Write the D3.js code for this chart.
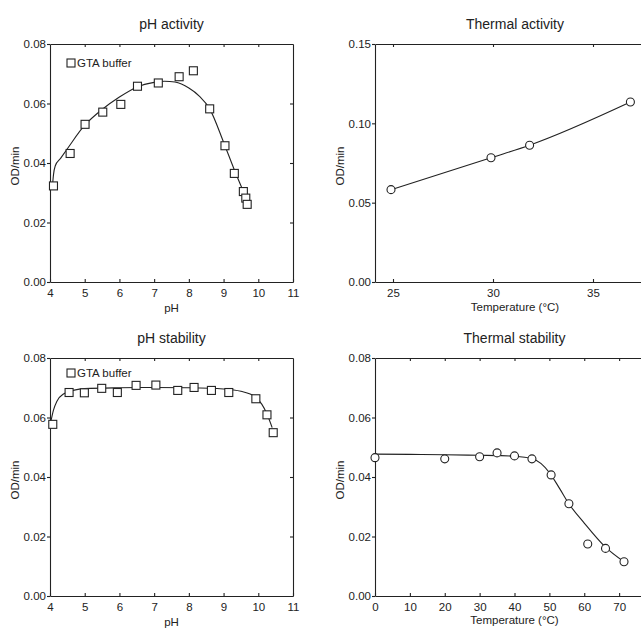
<!DOCTYPE html>
<html>
<head>
<meta charset="utf-8">
<script src="https://cdn.jsdelivr.net/npm/d3@7"></script>
<style>
  body { margin: 0; background: #fff; }
  text { font-family: "Liberation Sans", Arial, sans-serif; fill: #222; }
</style>
</head>
<body>
<svg id="chart" width="641" height="630"></svg>
<script>

// pH activity (GTA buffer)
const phActPH = [4.1, 4.58, 5.01, 5.52, 6.04, 6.52, 7.12, 7.72, 8.13, 8.6, 9.04, 9.31, 9.57, 9.64, 9.68]
const phActOD = [0.0323, 0.0432, 0.053, 0.0571, 0.0597, 0.0658, 0.0669, 0.069, 0.071, 0.0582, 0.0458, 0.0365, 0.0304, 0.0282, 0.0261]
const phActFitPH = [4.08, 4.1, 4.15, 4.3, 4.5, 5.0, 5.5, 6.0, 6.5, 7.0, 7.3, 7.6, 8.0, 8.3, 8.6, 9.0, 9.3, 9.55]
const phActFitOD = [0.0335, 0.036, 0.039, 0.0415, 0.0448, 0.0527, 0.058, 0.0622, 0.0655, 0.0671, 0.0675, 0.0672, 0.0652, 0.0625, 0.0582, 0.047, 0.038, 0.031]

// Thermal activity
const thActT = [24.9, 29.9, 31.83, 36.87]
const thActOD = [0.0582, 0.0783, 0.0862, 0.1134]

// pH stability (GTA buffer)
const phStabPH = [4.08, 4.55, 4.99, 5.49, 5.94, 6.48, 7.05, 7.68, 8.15, 8.65, 9.15, 9.93, 10.25, 10.43]
const phStabOD = [0.0577, 0.0684, 0.0683, 0.0698, 0.0684, 0.0708, 0.0709, 0.0691, 0.0701, 0.0691, 0.0684, 0.0663, 0.0609, 0.0549]
const phStabFitPH = [4.02, 4.1, 4.2, 4.4, 4.7, 5.0, 6.0, 7.0, 8.0, 9.0, 9.5, 9.9, 10.1, 10.25, 10.4]
const phStabFitOD = [0.0584, 0.0625, 0.0655, 0.068, 0.0692, 0.0697, 0.07, 0.0701, 0.07, 0.0696, 0.0688, 0.067, 0.0645, 0.0612, 0.0566]

// Thermal stability
const thStabT = [0, 20, 30, 35, 40, 45, 50.5, 55.6, 61, 66.1, 71.4]
const thStabOD = [0.0465, 0.0461, 0.0468, 0.0481, 0.0471, 0.0461, 0.0407, 0.031, 0.0175, 0.016, 0.0115]
const thStabFitT = [0, 10, 20, 30, 35, 40, 45, 50, 53, 55.6, 60, 66, 71.4]
const thStabFitOD = [0.0477, 0.0476, 0.0475, 0.0473, 0.0472, 0.047, 0.0462, 0.0415, 0.036, 0.031, 0.0245, 0.0165, 0.0115]

// tick labels
const phTicks = [4, 5, 6, 7, 8, 9, 10, 11]
const odTicks = [0, 0.02, 0.04, 0.06, 0.08]
const thActTicks = [25, 30, 35]
const odActTicks = [0, 0.05, 0.10, 0.15]
const thStabTicks = [0, 10, 20, 30, 40, 50, 60, 70]

const svg = d3.select("#chart")
const ink = "#222"

function styleAxis(sel) {
    sel.attr("color", ink)
        .attr("font-size", 11.5)
        .attr("font-family", "Liberation Sans, Arial, sans-serif")
    sel.selectAll("path, line").attr("stroke-width", 1.1)
}

function drawPanel(p) {
    const x = d3.scaleLinear().domain(p.xDomain).range([p.left, p.right])
    const y = d3.scaleLinear().domain(p.yDomain).range([p.bottom, p.top])
    const g = svg.append("g")
    const inner = (arr) => arr.filter(v => v > p.xDomain[0] && v < p.xDomain[1])
    const innerY = p.yTicks.slice(1, -1)

    // frame: top and right with inward ticks, no labels
    g.append("g").attr("transform", `translate(0,${p.top})`)
        .call(d3.axisTop(x).tickValues(inner(p.xTicks)).tickSizeInner(-3).tickSizeOuter(0).tickFormat(""))
        .call(styleAxis)
    g.append("g").attr("transform", `translate(${p.right},0)`)
        .call(d3.axisRight(y).tickValues(innerY).tickSizeInner(-3).tickSizeOuter(0).tickFormat(""))
        .call(styleAxis)

    // bottom axis
    g.append("g").attr("transform", `translate(0,${p.bottom})`)
        .call(d3.axisBottom(x).tickValues(p.xTicks).tickSizeInner(-3).tickSizeOuter(0).tickPadding(7).tickFormat(d3.format("d")))
        .call(styleAxis)

    // left axis
    g.append("g").attr("transform", `translate(${p.left},0)`)
        .call(d3.axisLeft(y).tickValues(p.yTicks).tickSizeInner(3).tickSizeOuter(0).tickPadding(1).tickFormat(d3.format(".2f")))
        .call(styleAxis)

    // title + axis labels
    g.append("text")
        .attr("x", (p.left + p.right) / 2).attr("y", p.top - 15)
        .attr("text-anchor", "middle").attr("font-size", 14)
        .text(p.title)
    g.append("text")
        .attr("x", (p.left + p.right) / 2).attr("y", p.bottom + p.xLabelOffset)
        .attr("text-anchor", "middle").attr("font-size", 11.5)
        .text(p.xLabel)
    g.append("text")
        .attr("transform", `translate(${p.left - 31},${(p.top + p.bottom) / 2 + 3}) rotate(-90)`)
        .attr("text-anchor", "middle").attr("font-size", 11.5)
        .text("OD/min")

    // fitted curve
    const line = d3.line()
        .x(d => x(d[0]))
        .y(d => y(d[1]))
        .curve(d3.curveMonotoneX)
    g.append("path")
        .datum(d3.zip(p.fitX, p.fitY))
        .attr("fill", "none")
        .attr("stroke", ink)
        .attr("stroke-width", 1.1)
        .attr("d", line)

    // markers
    const pts = d3.zip(p.dataX, p.dataY)
    if (p.marker === "square") {
        g.selectAll("rect.pt").data(pts).enter().append("rect")
            .attr("class", "pt")
            .attr("x", d => x(d[0]) - 4)
            .attr("y", d => y(d[1]) - 4)
            .attr("width", 8).attr("height", 8)
            .attr("fill", "#fff").attr("stroke", ink).attr("stroke-width", 1.1)
    } else {
        g.selectAll("circle.pt").data(pts).enter().append("circle")
            .attr("class", "pt")
            .attr("cx", d => x(d[0]))
            .attr("cy", d => y(d[1]))
            .attr("r", 4)
            .attr("fill", "#fff").attr("stroke", ink).attr("stroke-width", 1.1)
    }

    // legend
    if (p.legend) {
        const lx = p.left + 17, ly = p.top + p.legendDy
        g.append("rect")
            .attr("x", lx).attr("y", ly - 4)
            .attr("width", 8).attr("height", 8)
            .attr("fill", "#fff").attr("stroke", ink).attr("stroke-width", 1.1)
        g.append("text")
            .attr("x", lx + 10).attr("y", ly + 4)
            .attr("font-size", 11.5)
            .text(p.legend)
    }
}

drawPanel({
    left: 50, right: 293, top: 44, bottom: 282,
    xDomain: [4, 11], yDomain: [0, 0.08],
    xTicks: phTicks, yTicks: odTicks,
    title: "pH activity", xLabel: "pH", xLabelOffset: 30,
    dataX: phActPH, dataY: phActOD, fitX: phActFitPH, fitY: phActFitOD,
    marker: "square", legend: "GTA buffer", legendDy: 19
})

drawPanel({
    left: 375, right: 655, top: 44, bottom: 282,
    xDomain: [24.1, 38.1], yDomain: [0, 0.15],
    xTicks: thActTicks, yTicks: odActTicks,
    title: "Thermal activity", xLabel: "Temperature (°C)", xLabelOffset: 29,
    dataX: thActT, dataY: thActOD, fitX: thActT, fitY: thActOD,
    marker: "circle"
})

drawPanel({
    left: 50, right: 293, top: 358, bottom: 596,
    xDomain: [4, 11], yDomain: [0, 0.08],
    xTicks: phTicks, yTicks: odTicks,
    title: "pH stability", xLabel: "pH", xLabelOffset: 30,
    dataX: phStabPH, dataY: phStabOD, fitX: phStabFitPH, fitY: phStabFitOD,
    marker: "square", legend: "GTA buffer", legendDy: 15
})

drawPanel({
    left: 375, right: 654, top: 358, bottom: 596,
    xDomain: [0, 80], yDomain: [0, 0.08],
    xTicks: thStabTicks, yTicks: odTicks,
    title: "Thermal stability", xLabel: "Temperature (°C)", xLabelOffset: 28,
    dataX: thStabT, dataY: thStabOD, fitX: thStabFitT, fitY: thStabFitOD,
    marker: "circle"
})
</script>
</body>
</html>
